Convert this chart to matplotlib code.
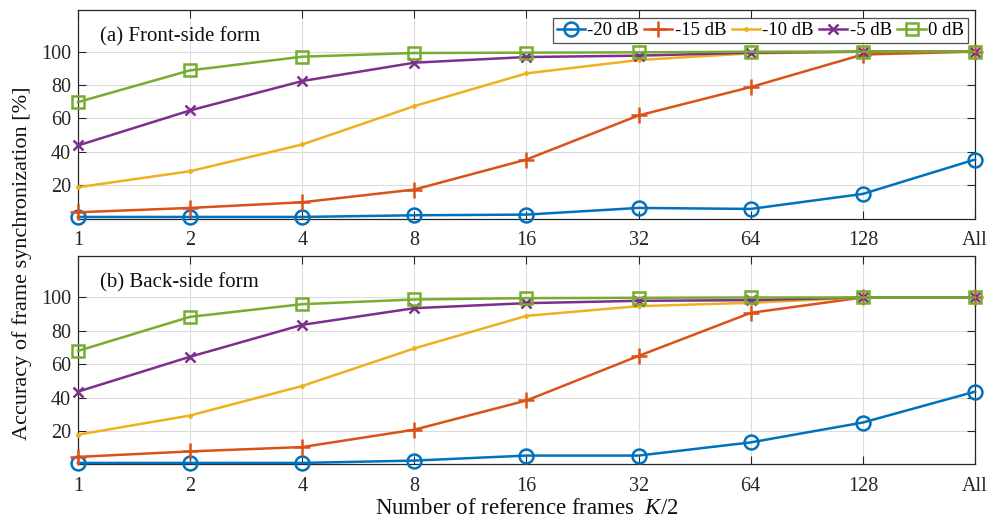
import matplotlib
matplotlib.use("Agg")
import matplotlib.pyplot as plt

plt.rcParams['font.family'] = ['Liberation Serif', 'DejaVu Serif']
plt.rcParams['mathtext.fontset'] = 'custom'
plt.rcParams['mathtext.it'] = 'Liberation Serif:italic'
plt.rcParams['mathtext.rm'] = 'Liberation Serif'

categories = ["1", "2", "4", "8", "16", "32", "64", "128", "All"]
snr_labels = ["-20 dB", "-15 dB", "-10 dB", "-5 dB", "0 dB"]

# (a) front-side form
front_m20 = [1.0, 1.0, 1.0, 2.0, 2.4, 6.4, 5.8, 14.8, 35.4]
front_m15 = [3.8, 6.4, 9.8, 17.4, 35.4, 61.8, 78.8, 98.3, 100.0]
front_m10 = [18.8, 28.4, 44.4, 67.4, 87.0, 95.0, 99.0, 100.0, 100.0]
front_m5 = [43.8, 64.8, 82.4, 93.4, 96.8, 97.6, 99.4, 100.0, 100.0]
front_0 = [69.8, 88.8, 97.0, 99.2, 99.4, 99.6, 100.0, 100.0, 100.0]

# (b) back-side form
back_m20 = [0.9, 0.9, 0.9, 2.3, 5.3, 5.3, 13.2, 25.1, 43.6]
back_m15 = [4.5, 7.8, 10.4, 20.8, 38.3, 65.0, 90.8, 100.0, 100.0]
back_m10 = [17.8, 29.3, 47.0, 69.5, 89.0, 94.8, 96.8, 100.0, 100.0]
back_m5 = [43.6, 64.5, 83.6, 93.6, 96.6, 98.0, 98.4, 100.0, 100.0]
back_0 = [68.0, 88.4, 96.0, 98.8, 99.6, 99.8, 100.0, 100.0, 100.0]

y_ticks = [20, 40, 60, 80, 100]

colors = ["#0072BD", "#D95319", "#EDB120", "#7E2F8E", "#77AC30"]
styles = [
    dict(marker="o", ms=10, mfc="none", mew=1.8),
    dict(marker="+", ms=11, mew=1.8),
    dict(marker=".", ms=5),
    dict(marker="x", ms=7, mew=1.8),
    dict(marker="s", ms=8.5, mfc="none", mew=1.8),
]

fig = plt.figure(figsize=(9.99, 5.23), dpi=100)
ax_top = fig.add_axes([0.078, 0.582, 0.898, 0.399])
ax_bot = fig.add_axes([0.078, 0.112, 0.898, 0.399])

x = list(range(len(categories)))
panels = [
    (ax_top, [front_m20, front_m15, front_m10, front_m5, front_0], "(a) Front-side form"),
    (ax_bot, [back_m20, back_m15, back_m10, back_m5, back_0], "(b) Back-side form"),
]

edge = "#262626"
for ax, series, title in panels:
    for vals, col, st, lab in zip(series, colors, styles, snr_labels):
        ax.plot(x, vals, color=col, lw=1.8, label=lab, clip_on=False, zorder=3, **st)
    ax.set_xlim(0, len(categories) - 1)
    ax.set_ylim(0, 125)
    ax.set_xticks(x)
    ax.set_xticklabels(categories)
    ax.set_yticks(y_ticks)
    ax.grid(True, color="#dcdcdc", lw=0.8)
    ax.set_axisbelow(True)
    ax.tick_params(direction="in", top=True, right=True, length=6, width=0.8,
                   labelsize=14.5, colors=edge)
    ax.tick_params(axis="x", pad=9)
    ax.tick_params(axis="y", pad=5)
    for sp in ax.spines.values():
        sp.set_color(edge)
        sp.set_linewidth(0.9)
    ax.text(0.025, 0.87, title, transform=ax.transAxes, fontsize=15,
            va="center", ha="left", color="#111111")

leg = ax_top.legend(loc="upper right", ncol=5, fontsize=13.5, frameon=True,
                    fancybox=False, edgecolor=edge, handlelength=1.5,
                    handletextpad=0.12, columnspacing=0.3, borderpad=0.22,
                    borderaxespad=0.0, bbox_to_anchor=(0.992, 0.962))
leg.get_frame().set_linewidth(0.9)

fig.text(0.022, 0.496, "Accuracy of frame synchronization [%]", rotation=90,
         va="center", ha="center", fontsize=16, color="#111111")
fig.text(0.527, 0.028, "Number of reference frames  $K$/2", va="center",
         ha="center", fontsize=16.5, color="#111111")

fig.savefig("out.png", dpi=100)
